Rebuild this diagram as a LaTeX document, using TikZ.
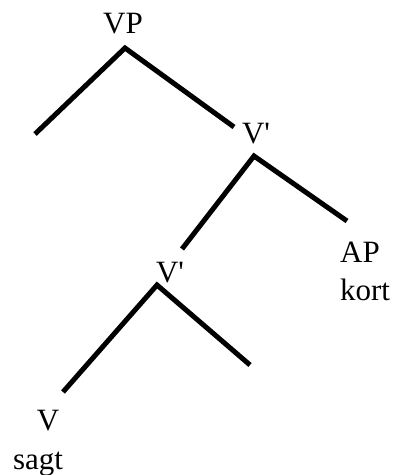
\documentclass[tikz,border=0pt]{standalone}
\usepackage{fontspec}
\setmainfont{Liberation Serif}
\begin{document}
\begin{tikzpicture}[x=1pt,y=-1pt,
  lbl/.style={inner sep=0pt,anchor=base,font=\fontsize{31}{37}\selectfont},
  branch/.style={line width=5pt,line join=miter}]
\useasboundingbox (0,0) rectangle (393,475);
% labels
\node[lbl] (vp) at (123,33) {VP};
\node[lbl] (v1) at (256,143) {V\textquotesingle};
\node[lbl] (v2) at (170,282) {V\textquotesingle};
\node[lbl] (ap) at (360,262) {AP};
\node[lbl] (kort) at (365,300) {kort};
\node[lbl] (v) at (48,430) {V};
\node[lbl] (sagt) at (38,469) {sagt};
% branch points
\coordinate (vpTop) at (125,48);
\coordinate (vpL) at (35,134);
\coordinate (vpR) at (234,127);
\coordinate (v1Top) at (254,156);
\coordinate (v1L) at (182,249);
\coordinate (v1R) at (347,221);
\coordinate (v2Top) at (157,285);
\coordinate (v2L) at (63,392);
\coordinate (v2R) at (250,365);
% branches
\draw[branch] (vpL) -- (vpTop) -- (vpR);
\draw[branch] (v1L) -- (v1Top) -- (v1R);
\draw[branch] (v2L) -- (v2Top) -- (v2R);
\end{tikzpicture}
\end{document}
